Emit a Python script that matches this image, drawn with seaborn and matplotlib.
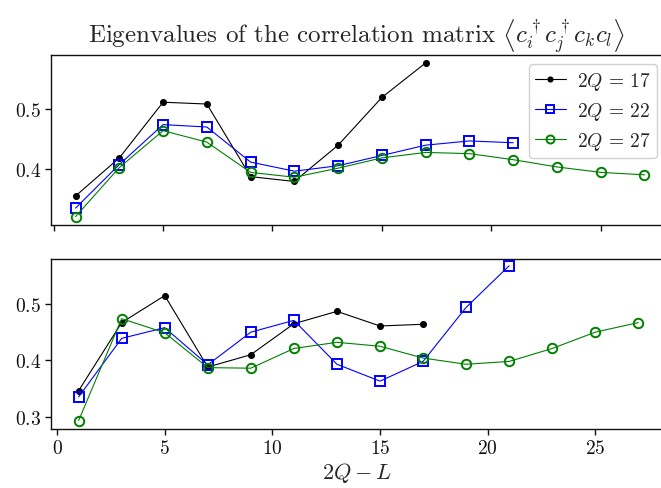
import matplotlib
matplotlib.use("Agg")
import matplotlib.pyplot as plt
import seaborn as sns
import pandas as pd

# 2Q - L values (odd integers)
x17 = [1, 3, 5, 7, 9, 11, 13, 15, 17]
x22 = [1, 3, 5, 7, 9, 11, 13, 15, 17, 19, 21]
x27 = [1, 3, 5, 7, 9, 11, 13, 15, 17, 19, 21, 23, 25, 27]

# upper panel eigenvalues
top17 = [0.356, 0.419, 0.511, 0.508, 0.388, 0.380, 0.440, 0.519, 0.576]
top22 = [0.336, 0.408, 0.474, 0.470, 0.412, 0.397, 0.406, 0.423, 0.440, 0.447, 0.444]
top27 = [0.322, 0.403, 0.464, 0.445, 0.395, 0.387, 0.402, 0.419, 0.428, 0.426,
         0.416, 0.404, 0.395, 0.391]

# lower panel eigenvalues
bot17 = [0.346, 0.467, 0.515, 0.388, 0.410, 0.465, 0.487, 0.461, 0.464]
bot22 = [0.335, 0.439, 0.458, 0.392, 0.450, 0.471, 0.393, 0.363, 0.398, 0.494, 0.568]
bot27 = [0.293, 0.474, 0.449, 0.387, 0.386, 0.421, 0.432, 0.425, 0.404, 0.393,
         0.398, 0.421, 0.450, 0.467]

labels = [r"$2Q\,=\,17$", r"$2Q\,=\,22$", r"$2Q\,=\,27$"]
xticks = [0, 5, 10, 15, 20, 25]

sns.set_theme(style="ticks")
plt.rcParams.update({
    "font.family": ["serif"],
    "font.serif": ["cmr10", "DejaVu Serif"],
    "mathtext.fontset": "cm",
    "axes.formatter.use_mathtext": True,
    "axes.edgecolor": "#111111",
    "axes.linewidth": 1.0,
    "xtick.direction": "out",
    "ytick.direction": "out",
    "xtick.major.size": 4,
    "ytick.major.size": 4,
    "xtick.color": "#111111",
    "ytick.color": "#111111",
})

BLACK, BLUE, GREEN = "#000000", "#0000ff", "#008000"
styles = [
    dict(color=BLACK, marker="o", markersize=4.3, markerfacecolor=BLACK, markeredgecolor=BLACK),
    dict(color=BLUE, marker="s", markersize=7, markerfacecolor="none", markeredgecolor=BLUE,
         markeredgewidth=1.4),
    dict(color=GREEN, marker="o", markersize=6.8, markerfacecolor="none", markeredgecolor=GREEN,
         markeredgewidth=1.4),
]

fig = plt.figure(figsize=(6.61, 4.89), dpi=100)
ax1 = fig.add_axes([0.0779, 0.5378, 0.9236, 0.3476])
ax2 = fig.add_axes([0.0779, 0.1207, 0.9236, 0.3476])


def draw(ax, series):
    for (xs, ys), lab, st in zip(series, labels, styles):
        df = pd.DataFrame({"x": xs, "y": ys})
        sns.lineplot(data=df, x="x", y="y", ax=ax, label=lab, linewidth=0.8,
                     estimator=None, sort=False, **st)
    ax.set_xlabel("")
    ax.set_ylabel("")
    ax.set_xticks(xticks)
    for s in ax.spines.values():
        s.set_visible(True)
    ax.tick_params(labelsize=14, width=1.0)


draw(ax1, [(x17, top17), (x22, top22), (x27, top27)])
draw(ax2, [(x17, bot17), (x22, bot22), (x27, bot27)])

ax1.set_xlim(-0.1, 27.8)
ax1.set_ylim(0.308, 0.589)
ax1.set_yticks([0.4, 0.5])
ax1.set_xticklabels([])
ax1.legend(loc="upper right", bbox_to_anchor=(657 / 661, 1 - 65 / 489),
           bbox_transform=fig.transFigure, borderaxespad=0.0,
           fontsize=14, frameon=True, fancybox=True,
           edgecolor="#cccccc", framealpha=0.9,
           handlelength=1.6, handletextpad=0.6, labelspacing=0.42, borderpad=0.3,
           markerscale=0.85)
ax1.set_title(r"Eigenvalues of the correlation matrix "
              r"$\left\langle c_i^\dagger c_j^\dagger c_k c_l \right\rangle$",
              fontsize=18, pad=5)

ax2.set_xlim(-0.26, 28.1)
ax2.set_ylim(0.278, 0.58)
ax2.set_yticks([0.3, 0.4, 0.5])
ax2.legend().remove()
ax2.set_xlabel(r"$2Q-L$", fontsize=16, labelpad=2)

fig.savefig("out.png", dpi=100)
